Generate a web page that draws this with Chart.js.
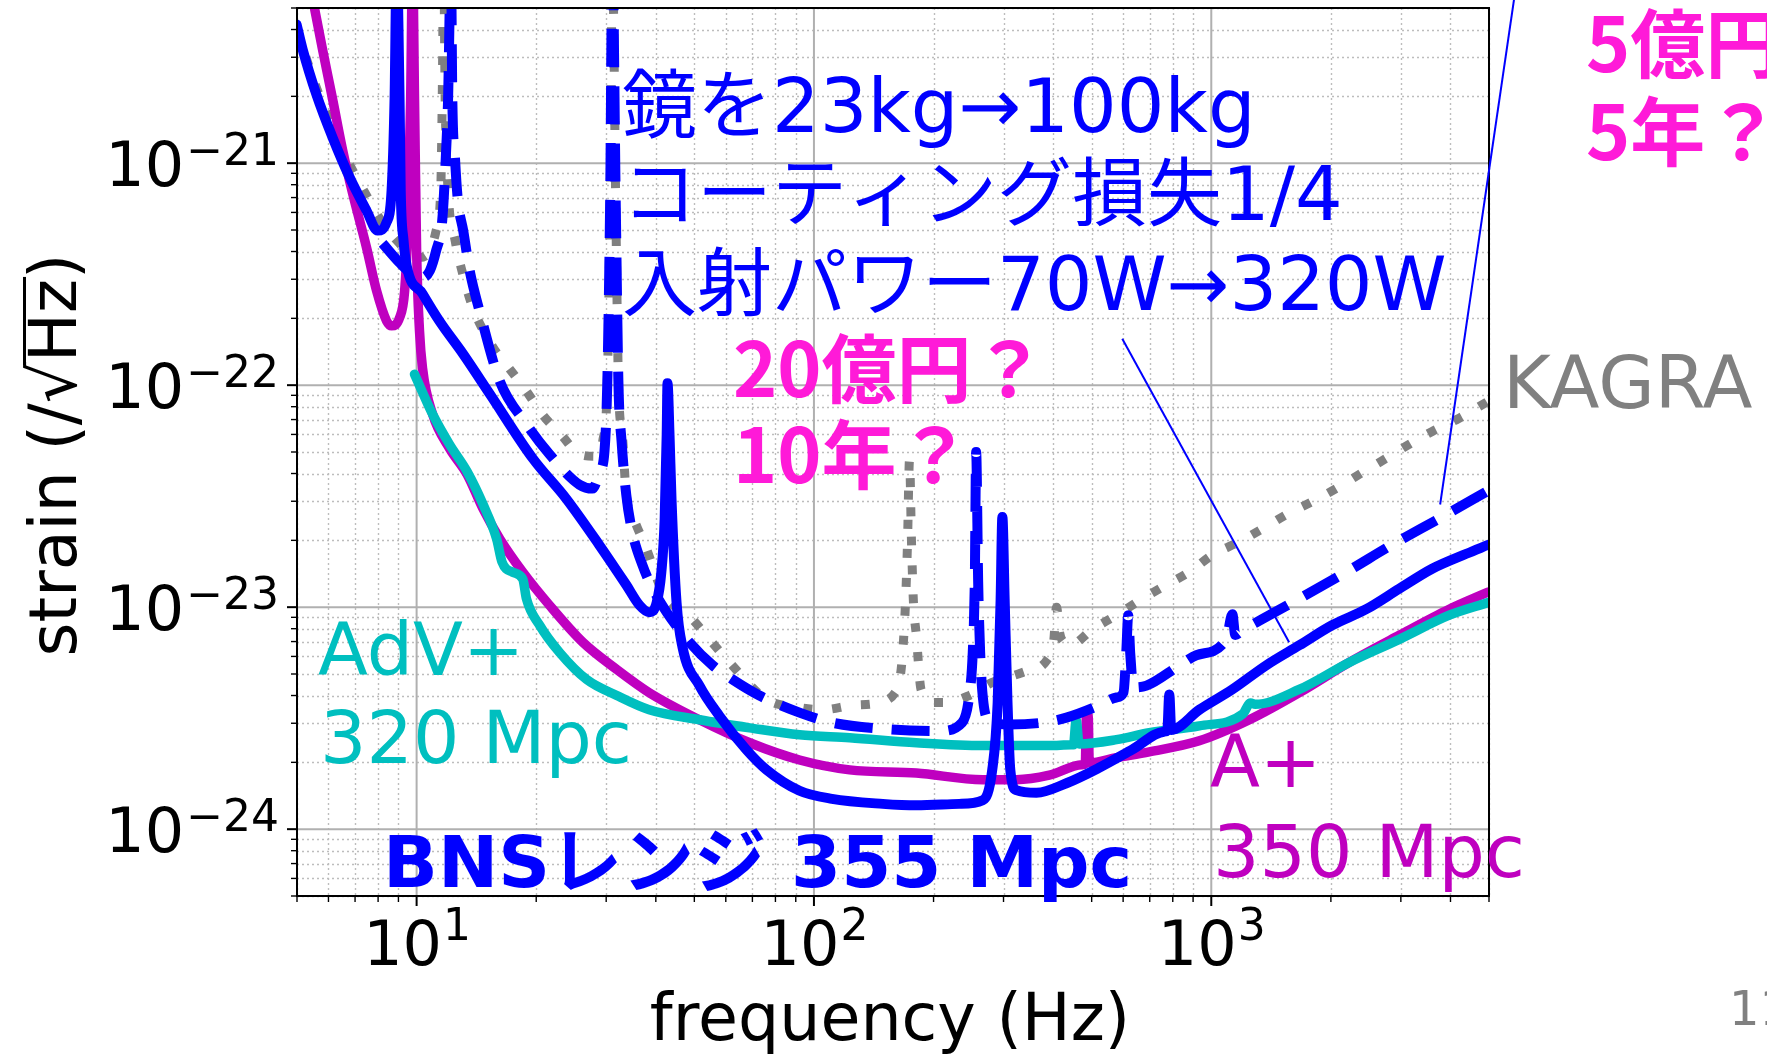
<!DOCTYPE html>
<html>
<head>
<meta charset="utf-8">
<script src="https://cdn.jsdelivr.net/npm/chart.js@4.4.0/dist/chart.umd.min.js"></script>
<style>
  html, body { margin: 0; padding: 0; background: #fff; overflow: hidden; }
</style>
</head>
<body>
<canvas id="chart1" width="1767" height="1054"></canvas>
<script>
// KAGRA (gray dotted)
const kagraFreq = [4.99, 5.60, 6.15, 6.40, 6.90, 7.48, 8.07, 8.91, 9.60, 10.17, 10.8, 11.2, 11.5, 11.6, 11.7, 11.8, 12.0, 12.5, 13.0, 13.8,
  15.5, 17.1, 18.9, 20.7, 23.3, 25.7, 28.4, 29.4, 30.2, 30.7, 31.1, 31.7, 32.2, 33.0, 33.7, 35.7, 37.9, 41.6, 49.4, 54.6,
  61.3, 76.0, 92.0, 105, 125, 146, 160, 164, 167, 170, 172, 174, 176, 178, 181, 186, 199, 215, 246, 281,
  335, 387, 401, 408, 415, 425, 440, 502, 577, 670, 771, 881, 1007, 1175, 1343, 1545, 1796, 2062, 2355, 2754,
  3147, 3597, 4207, 4977];
const kagraStrain = [4.00e-21, 2.18e-21, 1.44e-21, 1.23e-21, 9.29e-22, 7.16e-22, 5.64e-22, 4.49e-22, 3.95e-22, 3.76e-22, 4.04e-22, 4.97e-22, 7.55e-22, 1.93e-21, 8e-21, 1.93e-21, 7.55e-22, 4.49e-22, 3.28e-22, 2.28e-22,
  1.50e-22, 1.19e-22, 9.40e-23, 7.40e-23, 5.88e-23, 4.88e-23, 4.78e-23, 5.58e-23, 1.04e-22, 6.81e-22, 8e-21, 6.81e-22, 1.04e-22, 5.75e-23, 3.21e-23, 2.35e-23, 1.83e-23, 1.17e-23, 8.83e-24, 7.16e-24,
  5.64e-24, 3.84e-24, 3.53e-24, 3.45e-24, 3.61e-24, 3.72e-24, 4.12e-24, 4.58e-24, 6.07e-24, 1.05e-23, 1.97e-23, 4.60e-23, 1.97e-23, 1.05e-23, 7.47e-24, 4.26e-24, 3.72e-24, 3.72e-24, 4.00e-24, 4.58e-24,
  5.08e-24, 5.82e-24, 6.95e-24, 1.0e-23, 7.71e-24, 6.95e-24, 6.73e-24, 7.94e-24, 9.20e-24, 1.09e-23, 1.26e-23, 1.44e-23, 1.72e-23, 1.97e-23, 2.25e-23, 2.61e-23, 2.99e-23, 3.42e-23, 3.96e-23, 4.68e-23,
  5.41e-23, 6.19e-23, 7.10e-23, 8.47e-23];

// KAGRA upgrade, 5億円 (blue dashed)
const upFreq = [8.21, 9.06, 9.88, 10.35, 10.8, 11.2, 11.6, 11.8, 12.0, 12.2, 12.3, 12.5, 12.7, 13.1, 13.6, 14.4, 16.2, 18.9, 21.6, 25.7,
  27.7, 28.9, 29.7, 30.2, 30.7, 31.1, 31.7, 32.2, 32.8, 33.7, 34.9, 37.0, 39.3, 42.6, 48.6, 55.6, 62.4, 72.9, 92.0, 111,
  149, 207, 236, 246, 251, 254, 256, 259, 262, 267, 277, 311, 376, 432, 522, 577, 601, 611, 618, 625,
  637, 687, 832, 917, 1091, 1130, 1149, 1197, 1343, 1600, 2188, 2851, 3811, 4977];
const upStrain = [4.35e-22, 3.56e-22, 3.11e-22, 3.05e-22, 3.28e-22, 4.04e-22, 5.52e-22, 9.29e-22, 1.93e-21, 8e-21, 1.93e-21, 1.03e-21, 6.81e-22, 4.97e-22, 3.28e-22, 2.16e-22, 1.04e-22, 6.67e-23, 4.88e-23, 3.56e-23,
  3.42e-23, 4.08e-23, 5.02e-23, 1.04e-22, 6.81e-22, 8e-21, 6.81e-22, 1.04e-22, 5.58e-23, 3.21e-23, 2.18e-23, 1.55e-23, 1.21e-23, 9.49e-24, 6.95e-24, 5.47e-24, 4.72e-24, 4.00e-24, 3.35e-24, 3.02e-24,
  2.83e-24, 2.77e-24, 3.02e-24, 4.00e-24, 6.25e-24, 1.30e-23, 5.00e-23, 1.30e-23, 6.25e-24, 3.72e-24, 3.08e-24, 2.96e-24, 3.02e-24, 3.18e-24, 3.61e-24, 3.92e-24, 4.12e-24, 6.25e-24, 9.20e-24, 6.25e-24,
  4.35e-24, 4.43e-24, 5.47e-24, 6.07e-24, 7.16e-24, 9.29e-24, 7.50e-24, 7.87e-24, 8.83e-24, 1.05e-23, 1.44e-23, 1.91e-23, 2.55e-23, 3.35e-23];

// 100 kg mirror, 20億円 (blue solid)
const mirrorFreq = [4.99, 5.17, 5.60, 6.15, 6.78, 7.48, 7.98, 8.40, 8.65, 8.80, 8.91, 9.06, 9.12, 9.27, 9.44, 10.35, 11.4, 13.1, 15.3, 19.6,
  23.8, 28.8, 33.7, 36.4, 38.5, 40.2, 41.3, 42.1, 42.6, 42.8, 43.3, 43.8, 45.1, 46.7, 51.5, 57.8, 67.6, 76.0, 92.0, 111,
  149, 181, 232, 266, 281, 290, 295, 298, 302, 307, 312, 323, 363, 432, 522, 632, 762, 775, 784, 793,
  933, 1130, 1375, 1665, 2014, 2455, 2972, 3597, 4385, 4977];
const mirrorStrain = [4.21e-21, 3.24e-21, 2.03e-21, 1.30e-21, 8.65e-22, 6.12e-22, 4.97e-22, 5.41e-22, 7.55e-22, 1.93e-21, 8e-21, 1.93e-21, 7.55e-22, 4.49e-22, 3.45e-22, 2.58e-22, 1.95e-22, 1.38e-22, 9.10e-23, 4.68e-23,
  3.08e-23, 1.91e-23, 1.26e-23, 1.02e-23, 9.49e-24, 1.05e-23, 1.44e-23, 2.50e-23, 6.00e-23, 1.02e-22, 6.00e-23, 3.08e-23, 1.05e-23, 6.59e-24, 4.43e-24, 3.24e-24, 2.28e-24, 1.85e-24, 1.49e-24, 1.37e-24,
  1.30e-24, 1.28e-24, 1.30e-24, 1.35e-24, 1.85e-24, 3.72e-24, 1.08e-23, 2.55e-23, 1.08e-23, 3.72e-24, 1.85e-24, 1.50e-24, 1.46e-24, 1.61e-24, 1.89e-24, 2.28e-24, 2.75e-24, 2.78e-24, 4.04e-24, 2.80e-24,
  3.45e-24, 4.26e-24, 5.47e-24, 6.73e-24, 8.29e-24, 9.79e-24, 1.21e-23, 1.49e-23, 1.74e-23, 1.91e-23];

// A+ (magenta)
const aplusFreq = [5.45, 5.80, 6.15, 6.51, 6.90, 7.48, 7.93, 8.40, 8.65, 9.06, 9.33, 9.49, 9.66, 9.77, 9.88, 10.0, 10.17, 10.35, 10.97, 12.1,
  13.4, 14.7, 16.2, 18.5, 21.6, 26.2, 31.9, 38.5, 51.5, 68.9, 92.0, 123, 181, 266, 323, 391, 473, 482, 485, 490,
  493, 577, 698, 933, 1247, 1665, 2224, 2972, 3971, 4977];
const aplusStrain = [5.75e-21, 3.24e-21, 1.93e-21, 1.15e-21, 7.32e-22, 4.17e-22, 2.66e-22, 1.95e-22, 1.85e-22, 2.01e-22, 2.66e-22, 4.82e-22, 1.93e-21, 8e-21, 1.93e-21, 4.04e-22, 1.75e-22, 1.19e-22, 7.40e-23, 5.19e-23,
  3.96e-23, 2.77e-23, 2.03e-23, 1.44e-23, 1.02e-23, 6.95e-24, 5.24e-24, 4.12e-24, 3.11e-24, 2.45e-24, 2.05e-24, 1.85e-24, 1.79e-24, 1.67e-24, 1.67e-24, 1.75e-24, 1.95e-24, 1.97e-24, 3.24e-24, 3.24e-24,
  1.99e-24, 2.10e-24, 2.23e-24, 2.50e-24, 3.11e-24, 4.12e-24, 5.64e-24, 7.47e-24, 9.79e-24, 1.17e-23];

// AdV+ (cyan)
const advFreq = [9.88, 10.97, 12.1, 13.4, 14.7, 15.9, 16.4, 17.4, 18.5, 18.9, 20.4, 22.9, 26.8, 31.9, 38.5, 51.5, 68.9, 92.0, 123, 181,
  266, 391, 444, 450, 457, 465, 577, 698, 933, 1200, 1255, 1290, 1665, 2224, 2972, 3971, 4977];
const advStrain = [1.12e-22, 7.40e-23, 5.41e-23, 4.08e-23, 2.90e-23, 2.03e-23, 1.60e-23, 1.44e-23, 1.34e-23, 1.09e-23, 8.29e-24, 6.25e-24, 4.72e-24, 4.00e-24, 3.45e-24, 3.11e-24, 2.86e-24, 2.66e-24, 2.58e-24, 2.45e-24,
  2.38e-24, 2.38e-24, 2.40e-24, 2.40e-24, 3.10e-24, 2.42e-24, 2.53e-24, 2.72e-24, 2.92e-24, 3.30e-24, 3.70e-24, 3.65e-24, 4.26e-24, 5.64e-24, 7.16e-24, 9.20e-24, 1.05e-23];

// decade labels
const xTickExps = [1, 2, 3];
const yTickExps = [-21, -22, -23, -24];

// pointer lines (frequency, strain)
const pointerMirror = [[597, 1.62e-22], [1570, 6.95e-24]];
const pointerUpgrade = [[5781, 5.47e-21], [3767, 2.90e-23]];

const BLUE = '#0000ff';
const PINK = '#ff1ad8';
const MAGENTA = '#bf00bf';
const CYAN = '#00bfbf';
const GRAY = '#808080';
const JP = '"DejaVu Sans", "Noto Sans CJK JP"';
const JPB = '"Noto Sans CJK JP"';

const notes = [
  { text: '鏡を23kg→100kg', x: 622, y: 132, font: '75px ' + JP, color: BLUE },
  { text: 'コーティング損失1/4', x: 622, y: 220, font: '75px ' + JP, color: BLUE },
  { text: '入射パワー70W→320W', x: 622, y: 310, font: '75px ' + JP, color: BLUE },
  { text: '20億円？', x: 733, y: 397, font: 'bold 75px ' + JPB, color: PINK },
  { text: '10年？', x: 733, y: 483, font: 'bold 75px ' + JPB, color: PINK },
  { text: '5億円？', x: 1586, y: 72, font: 'bold 75px ' + JPB, color: PINK },
  { text: '5年？', x: 1586, y: 160, font: 'bold 75px ' + JPB, color: PINK },
  { text: 'KAGRA', x: 1503, y: 408, font: '73px "DejaVu Sans"', color: GRAY },
  { text: 'AdV+', x: 318, y: 675, font: '73px "DejaVu Sans"', color: CYAN },
  { text: '320 Mpc', x: 320, y: 763, font: '73px "DejaVu Sans"', color: CYAN },
  { text: 'A+', x: 1210, y: 787, font: '73px "DejaVu Sans"', color: MAGENTA },
  { text: '350 Mpc', x: 1213, y: 877, font: '73px "DejaVu Sans"', color: MAGENTA },
  { text: 'BNSレンジ 355 Mpc', x: 383, y: 887, font: 'bold 72px "DejaVu Sans", "Noto Sans CJK JP"', color: BLUE },
  { text: '11', x: 1729, y: 1025, font: '48px "DejaVu Sans"', color: GRAY }
];

const toPoints = (fs, hs) => fs.map((f, i) => ({ x: f, y: hs[i] }));

const logValues = (min, max) => {
  const out = [];
  for (let e = Math.floor(Math.log10(min)); e <= Math.ceil(Math.log10(max)); e++) {
    for (let m = 1; m < 10; m++) {
      const v = m * Math.pow(10, e);
      if (v >= min * 0.999 && v <= max * 1.001) out.push({ v: v, major: m === 1 });
    }
  }
  return out;
};

const framePlugin = {
  id: 'frame',
  beforeDraw(chart) {
    const ctx = chart.ctx;
    ctx.save();
    ctx.fillStyle = '#fff';
    ctx.fillRect(0, 0, chart.width, chart.height);
    ctx.restore();
  },
  beforeDatasetsDraw(chart) {
    const ctx = chart.ctx, a = chart.chartArea;
    const xs = chart.scales.x, ys = chart.scales.y;
    const xv = logValues(xs.min, xs.max), yv = logValues(ys.min, ys.max);
    ctx.save();
    // minor grid, dotted
    ctx.strokeStyle = '#bdbdbd';
    ctx.lineWidth = 1.4;
    ctx.setLineDash([2, 3]);
    xv.filter(t => !t.major).forEach(t => {
      const px = Math.round(xs.getPixelForValue(t.v)) + 0.5;
      ctx.beginPath(); ctx.moveTo(px, a.top); ctx.lineTo(px, a.bottom); ctx.stroke();
    });
    yv.filter(t => !t.major).forEach(t => {
      const py = Math.round(ys.getPixelForValue(t.v)) + 0.5;
      ctx.beginPath(); ctx.moveTo(a.left, py); ctx.lineTo(a.right, py); ctx.stroke();
    });
    // major grid, solid
    ctx.setLineDash([]);
    ctx.strokeStyle = '#b0b0b0';
    ctx.lineWidth = 2;
    xv.filter(t => t.major).forEach(t => {
      const px = xs.getPixelForValue(t.v);
      ctx.beginPath(); ctx.moveTo(px, a.top); ctx.lineTo(px, a.bottom); ctx.stroke();
    });
    yv.filter(t => t.major).forEach(t => {
      const py = ys.getPixelForValue(t.v);
      ctx.beginPath(); ctx.moveTo(a.left, py); ctx.lineTo(a.right, py); ctx.stroke();
    });
    ctx.restore();
  },
  afterDatasetsDraw(chart) {
    const ctx = chart.ctx, a = chart.chartArea;
    const xs = chart.scales.x, ys = chart.scales.y;
    ctx.save();

    // spines
    ctx.strokeStyle = '#000';
    ctx.lineWidth = 2;
    ctx.strokeRect(a.left, a.top, a.right - a.left, a.bottom - a.top);

    // tick marks, outward
    logValues(xs.min, xs.max).forEach(t => {
      const px = xs.getPixelForValue(t.v);
      ctx.lineWidth = t.major ? 2 : 1.4;
      ctx.beginPath(); ctx.moveTo(px, a.bottom); ctx.lineTo(px, a.bottom + (t.major ? 10 : 6)); ctx.stroke();
    });
    logValues(ys.min, ys.max).forEach(t => {
      const py = ys.getPixelForValue(t.v);
      ctx.lineWidth = t.major ? 2 : 1.4;
      ctx.beginPath(); ctx.moveTo(a.left, py); ctx.lineTo(a.left - (t.major ? 10 : 6), py); ctx.stroke();
    });

    // tick labels
    ctx.fillStyle = '#000';
    ctx.textBaseline = 'alphabetic';
    const baseFont = '62px "DejaVu Sans"', supFont = '44px "DejaVu Sans"';
    yTickExps.forEach(e => {
      const py = ys.getPixelForValue(Math.pow(10, e));
      const sup = '\u2212' + Math.abs(e);
      ctx.textAlign = 'right';
      ctx.font = supFont;
      const sw = ctx.measureText(sup).width;
      ctx.fillText(sup, a.left - 18, py + 2);
      ctx.font = baseFont;
      ctx.fillText('10', a.left - 18 - sw - 2, py + 23);
    });
    xTickExps.forEach(e => {
      const px = xs.getPixelForValue(Math.pow(10, e));
      ctx.textAlign = 'left';
      ctx.font = baseFont;
      const bw = ctx.measureText('10').width;
      ctx.font = supFont;
      const sw = ctx.measureText(String(e)).width;
      const x0 = px - (bw + sw) / 2;
      ctx.font = baseFont;
      ctx.fillText('10', x0, a.bottom + 69);
      ctx.font = supFont;
      ctx.fillText(String(e), x0 + bw + 1, a.bottom + 44);
    });

    // axis titles
    ctx.font = '65px "DejaVu Sans"';
    ctx.textAlign = 'center';
    ctx.fillText('frequency (Hz)', (a.left + a.right) / 2 - 3, 1040);

    ctx.save();
    ctx.translate(76, (a.top + a.bottom) / 2 + 3);
    ctx.rotate(-Math.PI / 2);
    const title = 'strain (/\u221AHz)';
    const tw = ctx.measureText(title).width;
    ctx.fillText(title, 0, 0);
    const w0 = ctx.measureText('strain (/').width;
    const wr = ctx.measureText('\u221A');
    const w2 = ctx.measureText('strain (/\u221AHz').width;
    const top = -wr.actualBoundingBoxAscent + 1.5;
    ctx.lineWidth = 3;
    ctx.beginPath();
    ctx.moveTo(-tw / 2 + w0 + wr.width - 3, top);
    ctx.lineTo(-tw / 2 + w2 + 2, top);
    ctx.stroke();
    ctx.restore();

    // pointer lines
    ctx.strokeStyle = BLUE;
    ctx.lineWidth = 2;
    [pointerMirror, pointerUpgrade].forEach(p => {
      ctx.beginPath();
      ctx.moveTo(xs.getPixelForValue(p[0][0]), ys.getPixelForValue(p[0][1]));
      ctx.lineTo(xs.getPixelForValue(p[1][0]), ys.getPixelForValue(p[1][1]));
      ctx.stroke();
    });

    // text notes
    ctx.textAlign = 'left';
    notes.forEach(n => {
      ctx.font = n.font;
      ctx.fillStyle = n.color;
      ctx.fillText(n.text, n.x, n.y);
    });
    ctx.restore();
  }
};

const common = {
  pointRadius: 0,
  pointHoverRadius: 0,
  fill: false,
  cubicInterpolationMode: 'monotone',
  clip: 0,
  borderJoinStyle: 'round'
};

const ctx1 = document.querySelector('#chart1');

const chart1 = new Chart(ctx1, {
  type: 'line',
  data: {
    datasets: [
      Object.assign({}, common, { label: '100kg mirror', data: toPoints(mirrorFreq, mirrorStrain), borderColor: BLUE, borderWidth: 10, borderCapStyle: 'round', order: 0 }),
      Object.assign({}, common, { label: 'KAGRA upgrade', data: toPoints(upFreq, upStrain), borderColor: BLUE, borderWidth: 10, borderDash: [38, 19], borderCapStyle: 'butt', order: 1 }),
      Object.assign({}, common, { label: 'AdV+', data: toPoints(advFreq, advStrain), borderColor: CYAN, borderWidth: 9.5, borderCapStyle: 'round', order: 2 }),
      Object.assign({}, common, { label: 'A+', data: toPoints(aplusFreq, aplusStrain), borderColor: MAGENTA, borderWidth: 9.5, borderCapStyle: 'round', order: 3 }),
      Object.assign({}, common, { label: 'KAGRA', data: toPoints(kagraFreq, kagraStrain), borderColor: GRAY, borderWidth: 9, borderDash: [9, 20], borderCapStyle: 'butt', order: 4 })
    ]
  },
  options: {
    responsive: false,
    devicePixelRatio: 1,
    animation: false,
    events: [],
    layout: { padding: { left: 297, right: 278, top: 8, bottom: 158 } },
    plugins: { legend: { display: false }, tooltip: { enabled: false } },
    scales: {
      x: { type: 'logarithmic', min: 5, max: 5000, display: false },
      y: { type: 'logarithmic', min: 5e-25, max: 5e-21, display: false }
    }
  },
  plugins: [framePlugin]
});
</script>
</body>
</html>
